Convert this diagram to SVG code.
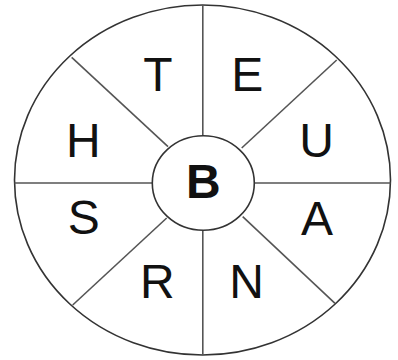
<svg xmlns="http://www.w3.org/2000/svg" width="398" height="360" viewBox="0 0 398 360">
<style>
.ln{stroke:#555;stroke-width:1.6;fill:none}
.sh{stroke:#333;stroke-width:1.6;fill:#fff}
.lt{font-family:"Liberation Sans",Arial,sans-serif;font-size:48px;fill:#111;text-anchor:middle}
.b{font-weight:bold}
</style>
<rect width="398" height="360" fill="#fff"/>
<g id="outer"><ellipse class="sh" cx="202.5" cy="180" rx="188" ry="175"/></g>
<g id="connectors">
<line class="ln" x1="202.8" y1="5" x2="202.8" y2="136"/>
<line class="ln" x1="202.8" y1="230" x2="202.8" y2="355"/>
<line class="ln" x1="14.5" y1="183" x2="152" y2="183"/>
<line class="ln" x1="254.5" y1="183" x2="390.5" y2="183"/>
<line class="ln" x1="71.7" y1="57.3" x2="168" y2="146.7"/>
<line class="ln" x1="336.7" y1="60" x2="241.7" y2="148"/>
<line class="ln" x1="72.7" y1="305" x2="166.7" y2="218"/>
<line class="ln" x1="335" y1="303.3" x2="242.7" y2="216.7"/>
</g>
<g id="center"><ellipse class="sh" cx="203.3" cy="183" rx="51" ry="47.3"/><text class="lt b" x="203.3" y="198.3">B</text></g>
<g id="T"><text class="lt" x="158" y="90.7">T</text></g>
<g id="E"><text class="lt" x="247.3" y="90.7">E</text></g>
<g id="H"><text class="lt" x="83.3" y="156.7">H</text></g>
<g id="U"><text class="lt" x="316.7" y="157">U</text></g>
<g id="S"><text class="lt" x="83.7" y="233.5">S</text></g>
<g id="A"><text class="lt" x="317" y="235">A</text></g>
<g id="R"><text class="lt" x="157.3" y="298.3">R</text></g>
<g id="N"><text class="lt" x="246.7" y="298.3">N</text></g>
</svg>
